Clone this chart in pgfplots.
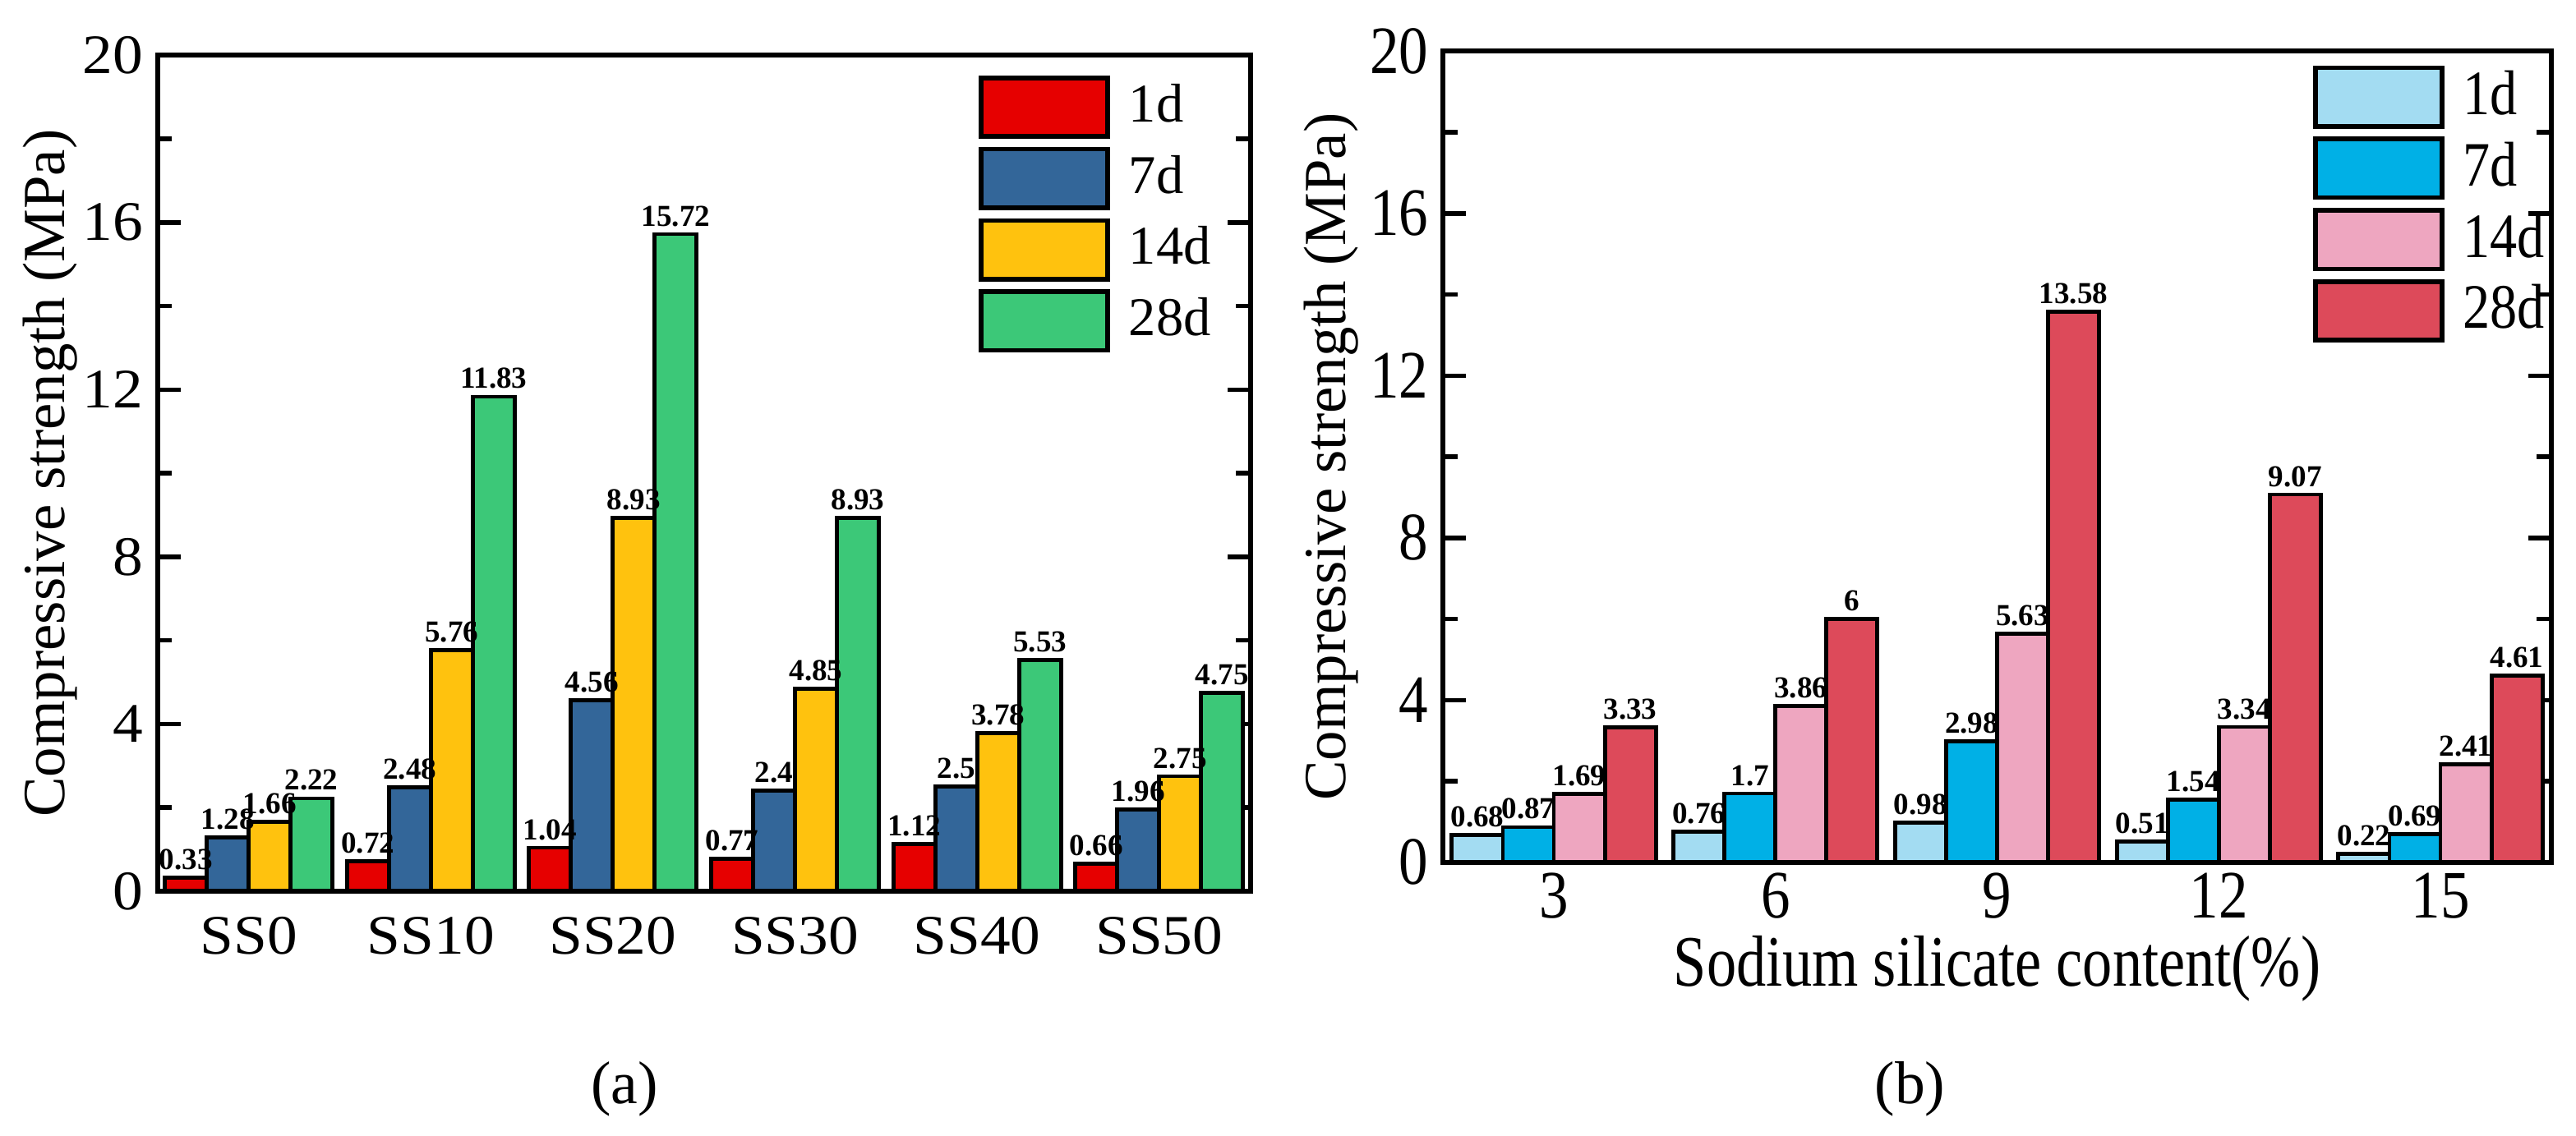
\documentclass[border=0pt]{standalone}
\usepackage{fontspec}
\setmainfont{Liberation Serif}
\newfontfamily\condfont[FakeStretch=0.86]{Liberation Serif}
\newfontfamily\condxfont[FakeStretch=0.82]{Liberation Serif}
\newfontfamily\widefont[FakeStretch=1.08]{Liberation Serif}
\usepackage{pgfplots}
\pgfplotsset{compat=1.18}

\definecolor{cRed}{HTML}{E60000}
\definecolor{cBlue}{HTML}{336699}
\definecolor{cYel}{HTML}{FFC20E}
\definecolor{cGrn}{HTML}{3CC878}
\definecolor{dLB}{HTML}{A3DCF2}
\definecolor{dB}{HTML}{00B0E6}
\definecolor{dPk}{HTML}{EEA6C0}
\definecolor{dRd}{HTML}{DD4A5A}

\pgfplotsset{
  mybars/.style={
    scale only axis,
    ybar,
    bar width=0.23,
    ymin=0, ymax=20,
    ytick={0,4,8,12,16,20},
    minor y tick num=1,
    ytick pos=both,
    tick align=inside,
    major tick length=4pt,
    minor tick length=2.5pt,
    every tick/.style={black, line width=0.8pt},
    xtick style={draw=none},
    axis line style={line width=0.9pt},
    /pgf/number format/assume math mode=true,
    yticklabel style={xshift=1pt},
    label style={font=\fontsize{10.4}{12}\selectfont},
    nodes near coords,
    every node near coord/.append style={font=\bfseries\fontsize{5.3}{6}\selectfont, inner sep=1pt, black},
    legend image code/.code={\draw[#1,draw=black,line width=0.8pt] (0pt,-5.1pt) rectangle (22pt,5.1pt);},
    legend style={draw=none, fill=none, inner sep=0pt, row sep=1.4pt, column sep=3.3pt,
      nodes={inner sep=0pt}},
    legend cell align=left,
  },
  bstyle/.style={draw=black, line width=0.7pt, fill=#1},
}

\begin{document}
\begin{tikzpicture}
\path (0,0) rectangle (447.9pt,197pt);

% ---------- (a) ----------
\begin{axis}[mybars,
  at={(27.4pt,42.0pt)}, anchor=south west,
  width=190pt, height=145.4pt,
  xmin=-0.5, xmax=5.5,
  xtick={0,1,2,3,4,5},
  xticklabels={SS0,SS10,SS20,SS30,SS40,SS50},
  tick label style={font=\widefont\fontsize{9.7}{12}\selectfont},
  xticklabel style={anchor=base, yshift=-11pt},
  ylabel={Compressive strength (MPa)},
  ylabel style={at={(axis description cs:-0.098,0.5)}, anchor=center},
  legend style={at={(rel axis cs:0.7505,0.977)}, anchor=north west,
    font=\fontsize{9.5}{11}\selectfont},
]
\addplot[bstyle=cRed, bar shift=-0.345] coordinates {(0,0.33) (1,0.72) (2,1.04) (3,0.77) (4,1.12) (5,0.66)};
\addplot[bstyle=cBlue, bar shift=-0.115] coordinates {(0,1.28) (1,2.48) (2,4.56) (3,2.4) (4,2.5) (5,1.96)};
\addplot[bstyle=cYel, bar shift=0.115] coordinates {(0,1.66) (1,5.76) (2,8.93) (3,4.85) (4,3.78) (5,2.75)};
\addplot[bstyle=cGrn, bar shift=0.345] coordinates {(0,2.22) (1,11.83) (2,15.72) (3,8.93) (4,5.53) (5,4.75)};
\legend{1d,7d,14d,28d}
\end{axis}

% ---------- (b) ----------
\begin{axis}[mybars,
  at={(250.9pt,47.0pt)}, anchor=south west,
  width=192.7pt, height=141.1pt,
  xmin=-0.5, xmax=4.5,
  xtick={0,1,2,3,4},
  xticklabels={3,6,9,12,15},
  tick label style={font=\condfont\fontsize{11.8}{13}\selectfont},
  xticklabel style={anchor=base, yshift=-9.6pt, inner sep=0pt},
  ylabel={Compressive strength (MPa)},
  ylabel style={at={(axis description cs:-0.101,0.5)}, anchor=center},
  xlabel={Sodium silicate content(\%)},
  xlabel style={font=\condxfont\fontsize{12.6}{14}\selectfont, inner sep=0pt,
    at={(axis description cs:0.5,-0.152)}, anchor=base},
  legend style={at={(rel axis cs:0.784,0.984)}, anchor=north west,
    font=\condfont\fontsize{11}{12}\selectfont},
]
\addplot[bstyle=dLB, bar shift=-0.345] coordinates {(0,0.68) (1,0.76) (2,0.98) (3,0.51) (4,0.22)};
\addplot[bstyle=dB, bar shift=-0.115] coordinates {(0,0.87) (1,1.7) (2,2.98) (3,1.54) (4,0.69)};
\addplot[bstyle=dPk, bar shift=0.115] coordinates {(0,1.69) (1,3.86) (2,5.63) (3,3.34) (4,2.41)};
\addplot[bstyle=dRd, bar shift=0.345] coordinates {(0,3.33) (1,6) (2,13.58) (3,9.07) (4,4.61)};
\legend{1d,7d,14d,28d}
\end{axis}

\node[font=\fontsize{10.5}{12}\selectfont] at (108.6pt,7.6pt) {(a)};
\node[font=\fontsize{10.5}{12}\selectfont] at (332.1pt,7.6pt) {(b)};
\end{tikzpicture}
\end{document}
